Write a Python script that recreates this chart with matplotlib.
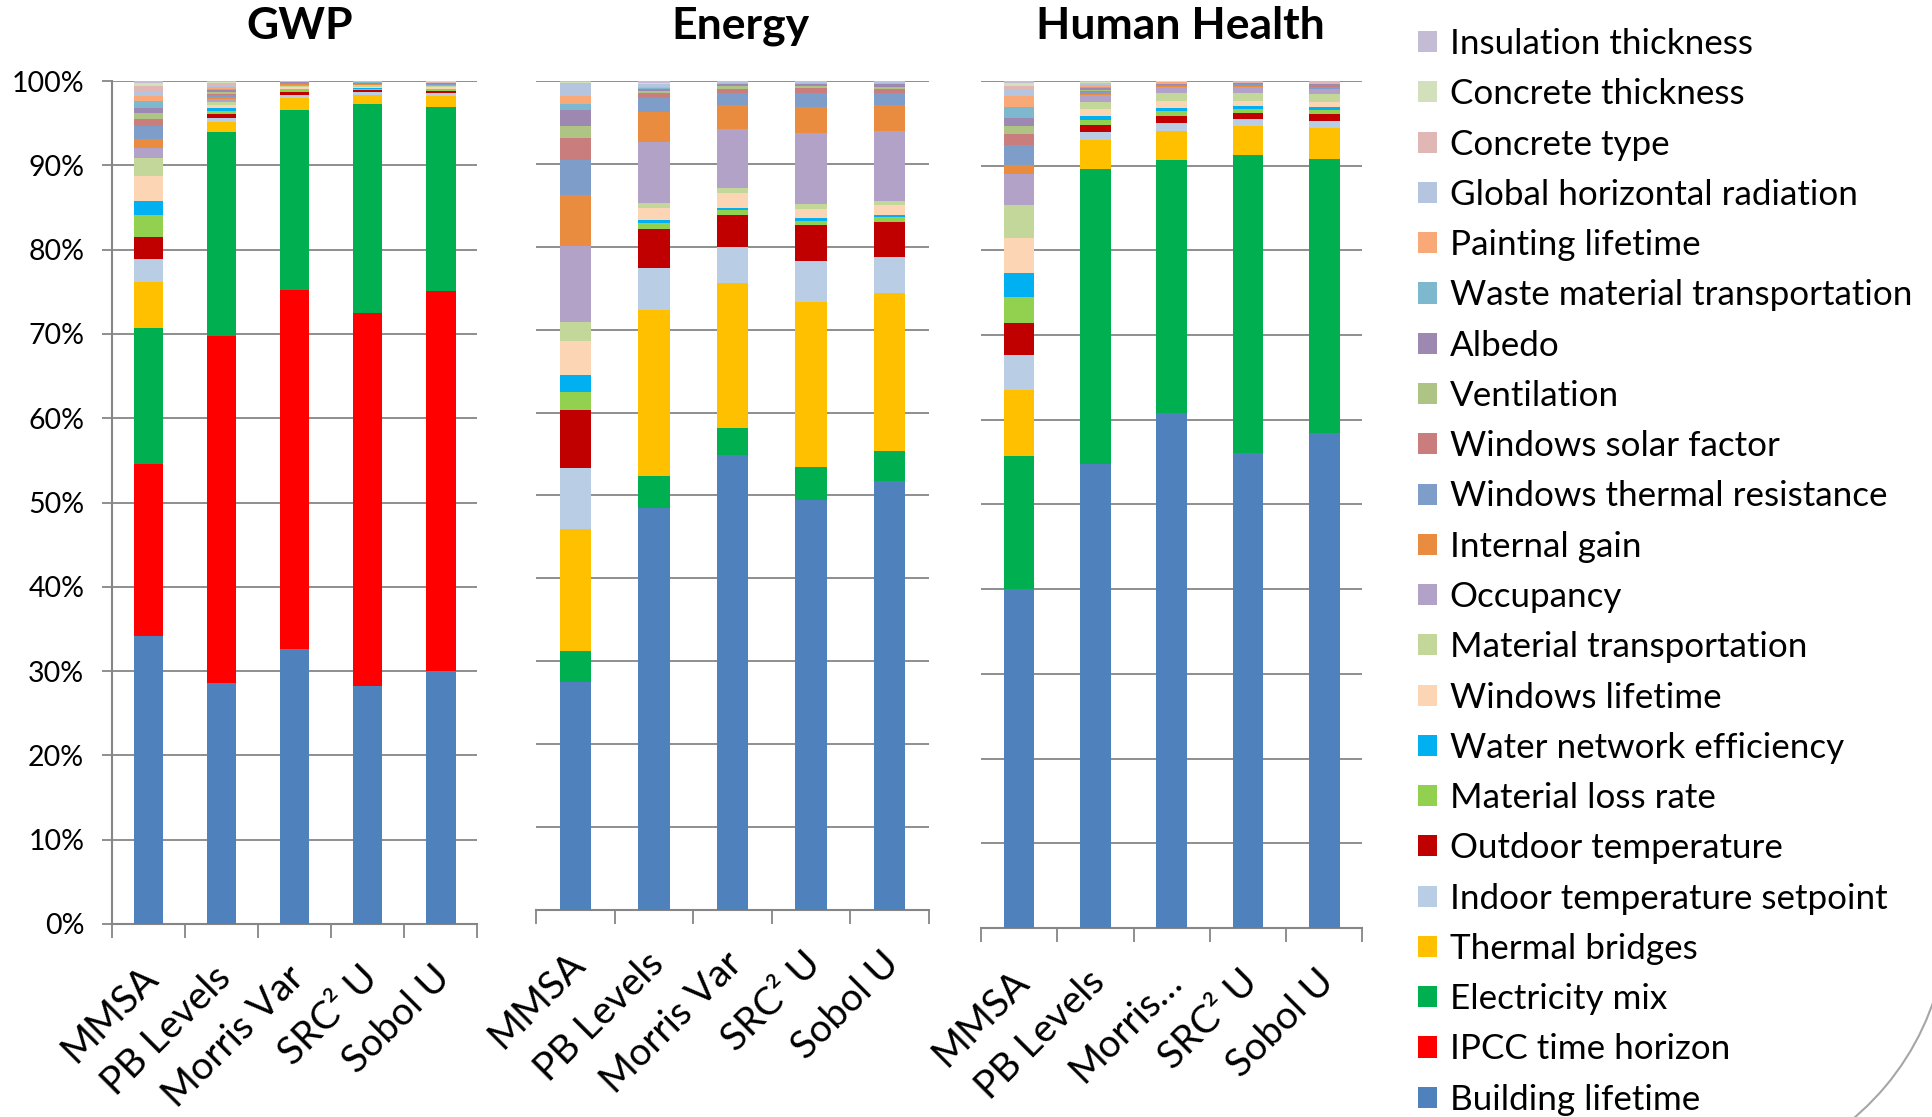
import numpy as np
import matplotlib
matplotlib.use("Agg")
import matplotlib.pyplot as plt
from matplotlib.patches import Patch, Arc
from matplotlib.transforms import offset_copy

plt.rcParams['font.family'] = ['Lato', 'DejaVu Sans']

# ---------------- data (percent of total sensitivity) ----------------
panels = ["GWP", "Energy", "Human Health"]
methods = ["MMSA", "PB Levels", "Morris Var", "SRC\u00b2 U", "Sobol U"]
methods_hh = ["MMSA", "PB Levels", "Morris\u2026", "SRC\u00b2 U", "Sobol U"]

# each list: GWP (5 methods), Energy (5 methods), Human Health (5 methods)
building_lifetime = [34.16, 28.59, 32.62, 28.27, 30.01, 27.46, 48.45, 54.85, 49.46, 51.75, 40.06, 54.74, 60.80, 56.08, 58.40]
ipcc_horizon      = [20.41, 41.20, 42.59, 44.17, 45.04, 0, 0, 0, 0, 0, 0, 0, 0, 0, 0]
electricity_mix   = [16.17, 24.12, 21.35, 24.79, 21.87, 3.78, 3.94, 3.33, 3.98, 3.58, 15.63, 34.91, 29.87, 35.18, 32.39]
thermal_bridges   = [5.42, 1.23, 1.46, 1.15, 1.34, 14.68, 20.03, 17.49, 19.86, 19.05, 7.87, 3.38, 3.47, 3.47, 3.62]
indoor_setpoint   = [2.69, 0.47, 0.36, 0.32, 0.28, 7.36, 5.02, 4.27, 4.99, 4.43, 4.05, 0.95, 0.94, 0.82, 0.87]
outdoor_temp      = [2.64, 0.44, 0.32, 0.23, 0.31, 6.99, 4.75, 3.90, 4.34, 4.18, 3.78, 0.79, 0.79, 0.67, 0.82]
material_loss     = [2.61, 0.39, 0.31, 0.15, 0.15, 2.21, 0.64, 0.56, 0.44, 0.57, 3.11, 0.62, 0.59, 0.47, 0.48]
water_network     = [1.67, 0.32, 0.05, 0.05, 0.05, 2.02, 0.40, 0.32, 0.40, 0.28, 2.87, 0.44, 0.31, 0.40, 0.35]
windows_lifetime  = [2.96, 0.45, 0.25, 0.20, 0.20, 4.14, 1.49, 1.77, 1.09, 1.16, 4.06, 0.86, 0.87, 0.55, 0.63]
material_transp   = [2.10, 0.35, 0.15, 0.15, 0.15, 2.25, 0.52, 0.60, 0.56, 0.52, 3.89, 0.87, 0.94, 0.90, 0.87]
occupancy         = [1.26, 0.25, 0.10, 0.10, 0.10, 9.21, 7.36, 7.08, 8.61, 8.45, 3.74, 0.79, 0.75, 0.79, 0.63]
internal_gain     = [0.99, 0.25, 0.05, 0.05, 0.05, 6.19, 3.62, 2.97, 3.17, 3.09, 1.06, 0.15, 0.10, 0.05, 0.05]
windows_thermal   = [1.54, 0.25, 0.10, 0.05, 0.05, 4.14, 1.69, 1.41, 1.61, 1.45, 2.29, 0.20, 0.05, 0.25, 0.20]
windows_solar     = [0.91, 0.20, 0.05, 0.05, 0.05, 2.65, 0.68, 0.53, 0.65, 0.57, 1.37, 0.15, 0.05, 0.05, 0.20]
ventilation       = [0.64, 0.20, 0.03, 0.03, 0.03, 1.49, 0.15, 0.32, 0.24, 0.24, 0.91, 0.10, 0.03, 0.02, 0.03]
albedo            = [0.66, 0.20, 0.05, 0.05, 0.05, 1.93, 0.30, 0.24, 0.24, 0.32, 0.98, 0.20, 0.05, 0.05, 0.05]
waste_transp      = [0.76, 0.20, 0.03, 0.03, 0.03, 0.77, 0.10, 0.05, 0.05, 0.05, 1.30, 0.20, 0.03, 0.02, 0.05]
painting_lifetime = [0.67, 0.20, 0.03, 0.03, 0.03, 0.96, 0.15, 0.05, 0.05, 0.05, 1.30, 0.15, 0.20, 0.02, 0.05]
global_radiation  = [0.55, 0.20, 0.03, 0.03, 0.03, 1.37, 0.30, 0.20, 0.20, 0.20, 0.79, 0.15, 0.05, 0.02, 0.05]
concrete_type     = [0.63, 0.20, 0.03, 0.05, 0.10, 0.20, 0.10, 0.02, 0.02, 0.02, 0.39, 0.10, 0.05, 0.02, 0.10]
concrete_thick    = [0.28, 0.15, 0.02, 0.03, 0.03, 0.10, 0.10, 0.02, 0.02, 0.02, 0.27, 0.10, 0.03, 0.02, 0.03]
insulation_thick  = [0.28, 0.14, 0.02, 0.02, 0.05, 0.10, 0.21, 0.02, 0.02, 0.02, 0.28, 0.15, 0.03, 0.15, 0.13]

factor_names = ["Building lifetime", "IPCC time horizon", "Electricity mix", "Thermal bridges",
                "Indoor temperature setpoint", "Outdoor temperature", "Material loss rate",
                "Water network efficiency", "Windows lifetime", "Material transportation",
                "Occupancy", "Internal gain", "Windows thermal resistance", "Windows solar factor",
                "Ventilation", "Albedo", "Waste material transportation", "Painting lifetime",
                "Global horizontal radiation", "Concrete type", "Concrete thickness",
                "Insulation thickness"]
factor_values = [building_lifetime, ipcc_horizon, electricity_mix, thermal_bridges, indoor_setpoint,
                 outdoor_temp, material_loss, water_network, windows_lifetime, material_transp,
                 occupancy, internal_gain, windows_thermal, windows_solar, ventilation, albedo,
                 waste_transp, painting_lifetime, global_radiation, concrete_type, concrete_thick,
                 insulation_thick]
factor_colors = ["#4F81BD", "#FF0000", "#00B050", "#FFC000", "#B9CDE5", "#C00000", "#92D050",
                 "#00B0F0", "#FCD5B5", "#C4D79B", "#B3A2C7", "#E98C3F", "#7F9DC9", "#C97D7D",
                 "#AEC485", "#9C88B0", "#7DB8CE", "#F9A978", "#B5C4DF", "#E1B7B6", "#D2E0BC",
                 "#C4BCD4"]

# ---------------- layout ----------------
W, H = 1933, 1117
fig = plt.figure(figsize=(W / 100, H / 100), dpi=100)

def px_axes(left, right, top, bottom):
    return [left / W, 1 - bottom / H, (right - left) / W, (bottom - top) / H]

axes_px = [(112, 477.5, 81, 924), (536, 929, 81, 910), (981, 1362.5, 81, 928)]
title_x = [300, 740, 1180]
GRAY = "#868686"

for p, (name, box) in enumerate(zip(panels, axes_px)):
    ax = fig.add_axes(px_axes(*box))
    x = np.arange(len(methods))
    bottom = np.zeros(len(methods))
    for vals, col in zip(factor_values, factor_colors):
        v = np.array(vals[p * 5:(p + 1) * 5], dtype=float)
        ax.bar(x, v, width=0.4, bottom=bottom, color=col, linewidth=0, zorder=3)
        bottom += v
    ax.set_xlim(-0.5, 4.5)
    ax.set_ylim(0, 100)
    ax.set_yticks(np.arange(0, 101, 10))
    ax.yaxis.grid(True, color=GRAY, linewidth=1.3, zorder=0)
    ax.set_axisbelow(True)
    for s in ["top", "right"]:
        ax.spines[s].set_visible(False)
    ax.spines["bottom"].set_color(GRAY)
    ax.spines["bottom"].set_linewidth(1.5)
    if p == 0:
        ax.spines["left"].set_color(GRAY)
        ax.spines["left"].set_linewidth(1.5)
        ax.set_yticklabels([f"{v}%" for v in range(0, 101, 10)])
        ax.tick_params(axis="y", length=7.5, width=1.3, color=GRAY, pad=12.5, labelsize=20.5)
    else:
        ax.spines["left"].set_visible(False)
        ax.tick_params(axis="y", length=0, labelleft=False)
    ax.set_xticks(x)
    ax.set_xticklabels([])
    ax.tick_params(axis="x", which="major", length=0)
    ax.set_xticks(np.arange(-0.5, 5, 1), minor=True)
    ax.tick_params(axis="x", which="minor", length=10, width=1.3, color=GRAY)
    labels = methods_hh if p == 2 else methods
    tr = offset_copy(ax.get_xaxis_transform(), fig=fig, x=4, y=-48, units="dots")
    for xi, lab in zip(x, labels):
        ax.text(xi, 0, lab, transform=tr, rotation=45, rotation_mode="anchor",
                ha="right", va="center", fontsize=28)
    fig.text(title_x[p] / W, 1 - 26 / H, name, ha="center", va="center",
             fontsize=32, fontweight="bold")

handles = [Patch(facecolor=c, edgecolor="none") for c in factor_colors][::-1]
fig.legend(handles, factor_names[::-1], loc="upper left",
           bbox_to_anchor=(1418 / W, 1 - 28 / H), frameon=False, fontsize=25.2,
           handlelength=0.55, handleheight=0.55, handletextpad=0.36,
           labelspacing=0.522, borderaxespad=0, borderpad=0)

# decorative arc in the lower right corner
arc = Arc((1681.7 / 100, (H - 915.3) / 100), 2 * 2.66, 2 * 2.66, theta1=-70, theta2=-10,
          transform=fig.dpi_scale_trans, color="#A6A6A6", linewidth=1.5)
fig.add_artist(arc)

fig.savefig("out.png", dpi=100)
